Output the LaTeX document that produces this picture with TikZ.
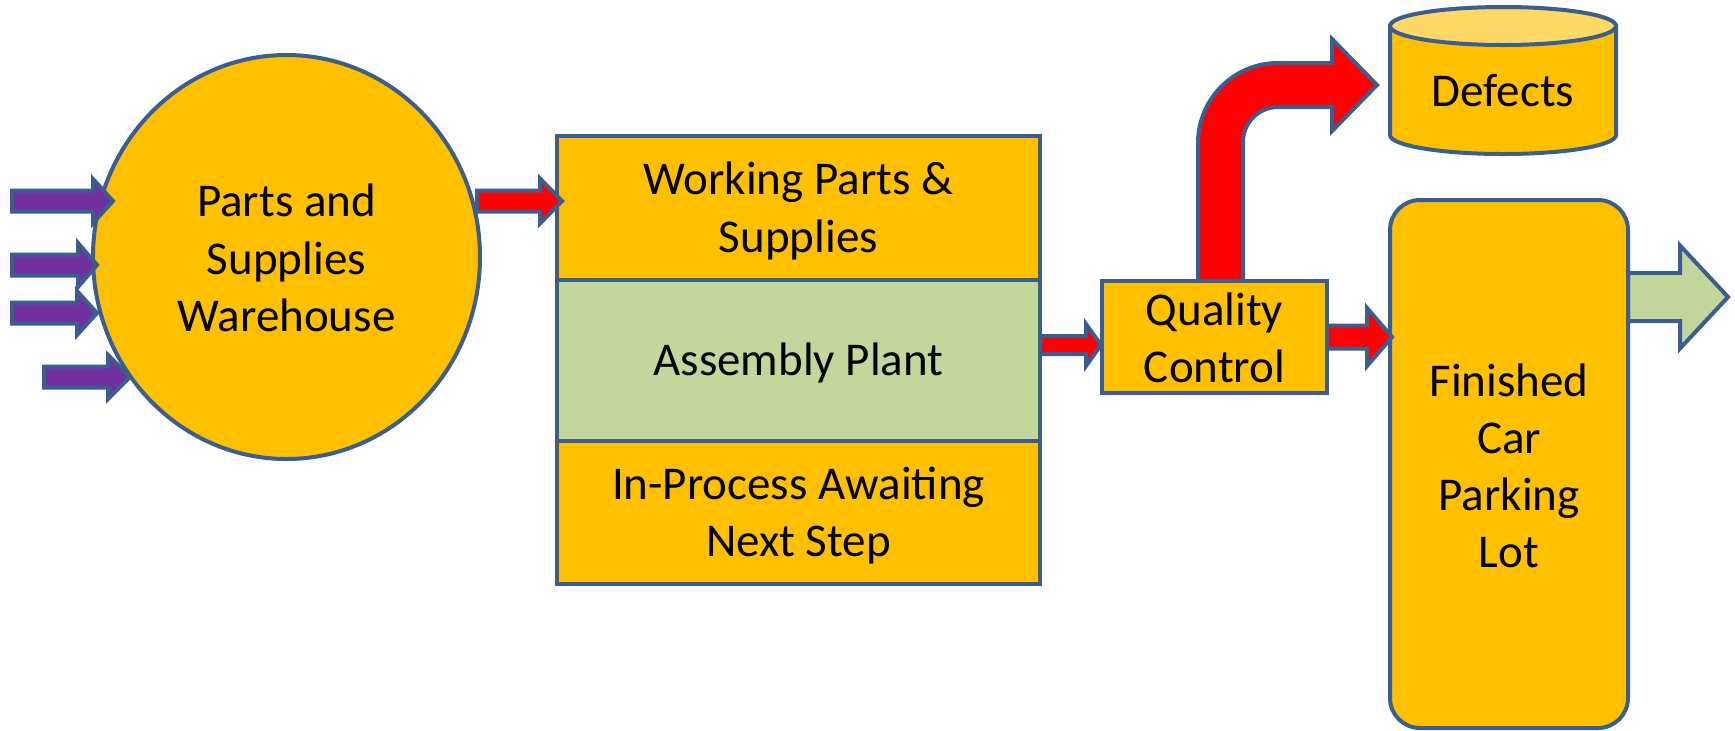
\documentclass[tikz,border=0pt]{standalone}
\usepackage{fontspec}
\setmainfont{Carlito}
\usetikzlibrary{shapes.geometric}
\definecolor{cOrange}{HTML}{FFC000}
\definecolor{cGreen}{HTML}{C3D69B}
\definecolor{cRed}{HTML}{FF0000}
\definecolor{cPurple}{HTML}{7030A0}
\definecolor{cEdge}{HTML}{3B5E8E}
\definecolor{cTop}{HTML}{FFD966}
\tikzset{
  edgeline/.style={draw=cEdge, line width=2pt, line join=miter},
  boxnode/.style={edgeline, rectangle, inner sep=0pt, align=center},
  lbl/.style={inner sep=0pt, align=center, font=\fontsize{23.5}{28.6}\selectfont},
}
% block arrow: fill, x start, x head base, x tip, y centre, shaft half, head half
\newcommand\blockarr[7]{%
  \draw[edgeline, fill=#1] (#2,#5-#6) -- (#3,#5-#6) -- (#3,#5-#7) -- (#4,#5)
    -- (#3,#5+#7) -- (#3,#5+#6) -- (#2,#5+#6) -- cycle;}
\begin{document}
\begin{tikzpicture}[x=0.5pt, y=-0.5pt]
\useasboundingbox (0,0) rectangle (1735,730);

% warehouse
\node[edgeline, ellipse, fill=cOrange, inner sep=0pt, minimum width=193.5pt, minimum height=202pt] (wh) at (286.5,257) {};
\node[lbl] (whtxt) at (286.5,258) {Parts and\\Supplies\\Warehouse};

% incoming purple arrows
\blockarr{cPurple}{12}{93}{113}{201}{10.5}{22}
\blockarr{cPurple}{12}{78}{97}{265}{10.5}{22}
\blockarr{cPurple}{12}{77}{97}{313}{10.5}{22}
\blockarr{cPurple}{44}{108}{130}{377}{10.5}{22}

% plant stack
\node[boxnode, fill=cOrange, minimum width=241.5pt, minimum height=72pt] (wps) at (798.5,208) {};
\node[boxnode, fill=cGreen, minimum width=241.5pt, minimum height=80.5pt] (asm) at (798.5,360.5) {};
\node[boxnode, fill=cOrange, minimum width=241.5pt, minimum height=71.5pt] (inp) at (798.5,512.5) {};
\node[lbl] at ([yshift=-1.5pt]wps.center) {Working Parts \&\\Supplies};
\node[lbl] at ([yshift=-1pt]asm.center) {Assembly Plant};
\node[lbl] at ([yshift=-1.5pt]inp.center) {In-Process Awaiting\\Next Step};

% warehouse -> plant
\blockarr{cRed}{477}{540}{562}{201}{10.5}{22.5}

% defects cylinder
\draw[edgeline, fill=cOrange] (1390,26) -- (1390,135)
  arc[start angle=180, end angle=0, x radius=113, y radius=19] -- (1616,26) -- cycle;
\draw[edgeline, fill=cTop] (1503,26) ellipse [x radius=113, y radius=19];
\node[lbl] (def) at (1503,91) {Defects};

% bent arrow QC -> defects
\draw[edgeline, fill=cRed] (1198,282) -- (1198,143)
  arc[start angle=180, end angle=270, radius=80] -- (1332,63) -- (1332,39)
  -- (1377,85) -- (1332,131) -- (1332,107) -- (1278,107)
  arc[start angle=270, end angle=180, radius=35] -- (1243,282) -- cycle;

% quality control
\node[boxnode, fill=cOrange, minimum width=112.5pt, minimum height=56pt] (qc) at (1214.5,337) {};
\node[lbl] at ([yshift=-0.5pt]qc.center) {Quality\\Control};

% plant -> QC
\blockarr{cRed}{1040}{1086}{1101}{345}{9}{21}

% green outgoing arrow
\blockarr{cGreen}{1628}{1680}{1728}{297}{24}{51.5}

% finished lot
\node[boxnode, fill=cOrange, rounded corners=15pt, minimum width=119pt, minimum height=264pt] (fin) at (1509,464) {};
\node[lbl] at (1509,466) {Finished\\Car\\Parking\\Lot};

% QC -> finished
\blockarr{cRed}{1327}{1367}{1392}{337}{11.5}{29}
\end{tikzpicture}
\end{document}
